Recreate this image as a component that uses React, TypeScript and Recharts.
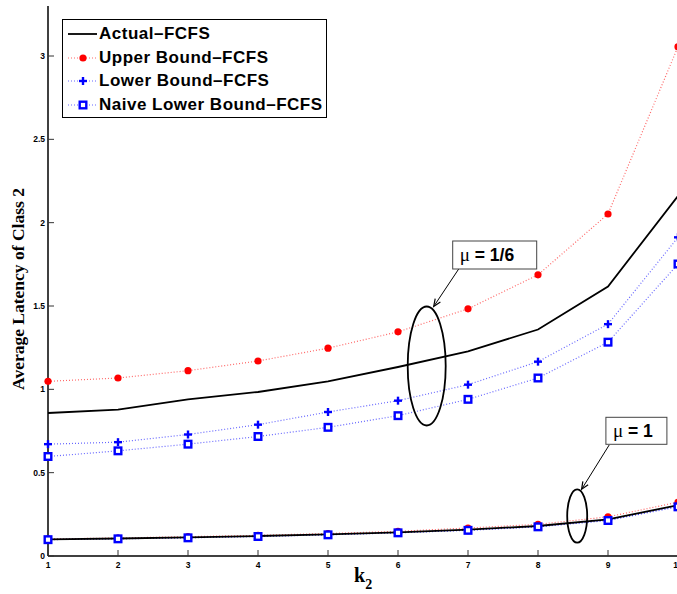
import React from "react";
import {
  LineChart,
  Line,
  XAxis,
  YAxis,
  Legend,
  ReferenceDot,
} from "recharts";

// k2 values on the x axis
const K2 = [1, 2, 3, 4, 5, 6, 7, 8, 9, 10];
const X_TICKS = [1, 2, 3, 4, 5, 6, 7, 8, 9, 10];
const Y_TICKS = [0, 0.5, 1, 1.5, 2, 2.5, 3];

// mu = 1/6
const ACTUAL_16 = [0.858, 0.878, 0.94, 0.984, 1.048, 1.134, 1.228, 1.359, 1.617, 2.16];
const UPPER_16 = [1.048, 1.068, 1.112, 1.17, 1.247, 1.345, 1.483, 1.687, 2.052, 3.056];
const LOWER_16 = [0.671, 0.683, 0.729, 0.788, 0.864, 0.932, 1.028, 1.166, 1.391, 1.912];
const NAIVE_16 = [0.597, 0.631, 0.671, 0.717, 0.772, 0.842, 0.94, 1.068, 1.283, 1.752];

// mu = 1
const ACTUAL_1 = [0.1, 0.105, 0.112, 0.12, 0.13, 0.142, 0.158, 0.18, 0.22, 0.305];
const UPPER_1 = [0.102, 0.108, 0.116, 0.124, 0.135, 0.148, 0.168, 0.19, 0.235, 0.323];
const LOWER_1 = [0.099, 0.104, 0.11, 0.118, 0.128, 0.14, 0.155, 0.176, 0.215, 0.3];
const NAIVE_1 = [0.098, 0.103, 0.109, 0.117, 0.127, 0.139, 0.154, 0.175, 0.213, 0.295];

const data = K2.map((k, i) => ({
  k,
  a16: ACTUAL_16[i],
  u16: UPPER_16[i],
  l16: LOWER_16[i],
  n16: NAIVE_16[i],
  a1: ACTUAL_1[i],
  u1: UPPER_1[i],
  l1: LOWER_1[i],
  n1: NAIVE_1[i],
}));

const RED = "#ff0000";
const BLUE = "#0000ff";
const SANS = "'Liberation Sans', Arial, sans-serif";
const SERIF = "'Liberation Serif', 'Times New Roman', serif";
const TICK = 6;

const RedDot = (p: any) => <circle cx={p.cx} cy={p.cy} r={3.6} fill={RED} stroke="none" />;
const PlusDot = (p: any) => (
  <g stroke={BLUE} strokeWidth={2.4}>
    <line x1={p.cx - 4} x2={p.cx + 4} y1={p.cy} y2={p.cy} />
    <line x1={p.cx} x2={p.cx} y1={p.cy - 4} y2={p.cy + 4} />
  </g>
);
const SquareDot = (p: any) => (
  <rect x={p.cx - 3.3} y={p.cy - 3.3} width={6.6} height={6.6} fill="#fff" stroke={BLUE} strokeWidth={2.4} />
);

const BottomTick = ({ x, y, payload }: any) => (
  <g>
    <line x1={x} x2={x} y1={y} y2={y - TICK} stroke="#333" strokeWidth={1} />
    <text x={x} y={y + 12} textAnchor="middle" fontSize={8.5} fontWeight="bold" fontFamily={SANS} fill="#000">
      {payload.value}
    </text>
  </g>
);
const TopTick = ({ x, y }: any) => <line x1={x} x2={x} y1={y} y2={y + TICK} stroke="#333" strokeWidth={1} />;
const LeftTick = ({ x, y, payload }: any) => (
  <g>
    <line x1={x} x2={x + TICK} y1={y} y2={y} stroke="#333" strokeWidth={1} />
    <text x={x - 3} y={y + 3} textAnchor="end" fontSize={8.5} fontWeight="bold" fontFamily={SANS} fill="#000">
      {payload.value}
    </text>
  </g>
);
const RightTick = ({ x, y }: any) => <line x1={x} x2={x - TICK} y1={y} y2={y} stroke="#333" strokeWidth={1} />;

type AnnotProps = {
  cx?: number;
  cy?: number;
  rx: number;
  ry: number;
  text: string;
  box: { dx: number; dy: number; w: number; h: number };
  arrow: { x1: number; y1: number; x2: number; y2: number };
};

const Annotation = ({ cx = 0, cy = 0, rx, ry, text, box, arrow }: AnnotProps) => {
  const x1 = cx + arrow.x1;
  const y1 = cy + arrow.y1;
  const x2 = cx + arrow.x2;
  const y2 = cy + arrow.y2;
  const ang = Math.atan2(y2 - y1, x2 - x1);
  const hl = 8;
  const h1x = x2 - hl * Math.cos(ang - 0.4);
  const h1y = y2 - hl * Math.sin(ang - 0.4);
  const h2x = x2 - hl * Math.cos(ang + 0.4);
  const h2y = y2 - hl * Math.sin(ang + 0.4);
  return (
    <g>
      <ellipse cx={cx} cy={cy} rx={rx} ry={ry} fill="none" stroke="#000" strokeWidth={1.8} />
      <line x1={x1} y1={y1} x2={x2} y2={y2} stroke="#000" strokeWidth={1} />
      <polyline points={`${h1x},${h1y} ${x2},${y2} ${h2x},${h2y}`} fill="none" stroke="#000" strokeWidth={1.2} />
      <rect x={cx + box.dx} y={cy + box.dy} width={box.w} height={box.h} fill="#fff" stroke="#444" strokeWidth={1} />
      <text x={cx + box.dx + 7} y={cy + box.dy + 20} fontSize={17.5} fill="#000">
        <tspan fontFamily={SERIF} fontSize={19}>μ</tspan>
        <tspan fontFamily={SANS} fontWeight="bold">{" = " + text}</tspan>
      </text>
    </g>
  );
};

const LEGEND = [
  { name: "Actual\u2013FCFS", kind: "solid" },
  { name: "Upper Bound\u2013FCFS", kind: "circle" },
  { name: "Lower Bound\u2013FCFS", kind: "plus" },
  { name: "Naive Lower Bound\u2013FCFS", kind: "square" },
];

const LegendBox = () => (
  <div
    style={{
      border: "1.5px solid #000",
      background: "#fff",
      width: 265,
      height: 99,
      boxSizing: "border-box",
      paddingTop: 2,
    }}
  >
    {LEGEND.map((e) => (
      <div key={e.name} style={{ display: "flex", alignItems: "center", height: 23.7 }}>
        <svg width={36} height={20} style={{ flex: "none" }}>
          {e.kind === "solid" ? (
            <line x1={5} x2={34} y1={10} y2={10} stroke="#000" strokeWidth={1.8} />
          ) : (
            <line x1={5} x2={34} y1={10} y2={10} stroke={e.kind === "circle" ? RED : BLUE} strokeWidth={1.2} strokeDasharray="1 2" strokeOpacity={0.6} />
          )}
          {e.kind === "circle" && <RedDot cx={20} cy={10} />}
          {e.kind === "plus" && <PlusDot cx={20} cy={10} />}
          {e.kind === "square" && <SquareDot cx={20} cy={10} />}
        </svg>
        <span
          style={{
            fontFamily: SANS,
            fontWeight: "bold",
            fontSize: 17,
            letterSpacing: 0.5,
            color: "#000",
            whiteSpace: "nowrap",
          }}
        >
          {e.name}
        </span>
      </div>
    ))}
  </div>
);

const dotted = { strokeWidth: 1.2, strokeDasharray: "1 2", strokeOpacity: 0.6 };

export default function App() {
  return (
    <div style={{ position: "absolute", left: 0, top: 0, width: 677, height: 594, overflow: "hidden", background: "#fff" }}>
      <LineChart width={678} height={594} data={data} margin={{ top: 6, right: 0, bottom: 0, left: 0 }}>
        <XAxis
          xAxisId="b"
          dataKey="k"
          type="number"
          domain={[1, 10]}
          ticks={X_TICKS}
          height={38}
          tickSize={0}
          tickMargin={0}
          tickLine={false}
          axisLine={{ stroke: "#000", strokeWidth: 1.5 }}
          tick={<BottomTick />}
          interval={0}
          label={{
            content: ({ viewBox }: any) => (
              <text x={viewBox.x + viewBox.width / 2 - 9} y={viewBox.y + 26} fontFamily={SERIF} fontWeight="bold" fontSize={20} fill="#000">
                k<tspan fontSize={14} dy={7}>2</tspan>
              </text>
            ),
          }}
        />
        <XAxis
          xAxisId="t"
          orientation="top"
          dataKey="k"
          type="number"
          domain={[1, 10]}
          ticks={X_TICKS}
          height={0}
          tickSize={0}
          tickMargin={0}
          tickLine={false}
          axisLine={{ stroke: "#444", strokeWidth: 1.5 }}
          tick={<TopTick />}
          interval={0}
        />
        <YAxis
          yAxisId="l"
          type="number"
          domain={[0, 3.3]}
          ticks={Y_TICKS}
          width={48}
          tickSize={0}
          tickMargin={0}
          tickLine={false}
          axisLine={{ stroke: "#000", strokeWidth: 1.5 }}
          tick={<LeftTick />}
          interval={0}
          label={{
            content: ({ viewBox }: any) => {
              const cx = viewBox.x + 24;
              const cy = viewBox.y + viewBox.height / 2 + 8;
              return (
                <text x={cx} y={cy} transform={`rotate(-90 ${cx} ${cy})`} textAnchor="middle" fontFamily={SERIF} fontWeight="bold" fontSize={17.5} fill="#000">
                  Average Latency of Class 2
                </text>
              );
            },
          }}
        />
        <YAxis
          yAxisId="r"
          orientation="right"
          type="number"
          domain={[0, 3.3]}
          ticks={Y_TICKS}
          width={0}
          tickSize={0}
          tickMargin={0}
          tickLine={false}
          axisLine={{ stroke: "#444", strokeWidth: 1.5 }}
          tick={<RightTick />}
          interval={0}
        />
        <Legend
          verticalAlign="middle"
          align="center"
          layout="vertical"
          wrapperStyle={{ left: 62, top: 19, width: "auto", height: "auto" }}
          content={() => <LegendBox />}
        />

        <Line xAxisId="b" yAxisId="l" dataKey="u16" stroke={RED} {...dotted} dot={<RedDot />} activeDot={false} isAnimationActive={false} legendType="none" />
        <Line xAxisId="b" yAxisId="l" dataKey="l16" stroke={BLUE} {...dotted} dot={<PlusDot />} activeDot={false} isAnimationActive={false} legendType="none" />
        <Line xAxisId="b" yAxisId="l" dataKey="n16" stroke={BLUE} {...dotted} dot={<SquareDot />} activeDot={false} isAnimationActive={false} legendType="none" />
        <Line xAxisId="b" yAxisId="l" dataKey="a16" stroke="#000" strokeWidth={1.8} dot={false} activeDot={false} isAnimationActive={false} legendType="none" />

        <Line xAxisId="b" yAxisId="l" dataKey="u1" stroke={RED} {...dotted} dot={<RedDot />} activeDot={false} isAnimationActive={false} legendType="none" />
        <Line xAxisId="b" yAxisId="l" dataKey="l1" stroke={BLUE} {...dotted} dot={<PlusDot />} activeDot={false} isAnimationActive={false} legendType="none" />
        <Line xAxisId="b" yAxisId="l" dataKey="n1" stroke={BLUE} {...dotted} dot={<SquareDot />} activeDot={false} isAnimationActive={false} legendType="none" />
        <Line xAxisId="b" yAxisId="l" dataKey="a1" stroke="#000" strokeWidth={1.8} dot={false} activeDot={false} isAnimationActive={false} legendType="none" />

        <ReferenceDot
          xAxisId="b"
          yAxisId="l"
          x={6.41}
          y={1.14}
          ifOverflow="visible"
          shape={(p: any) => (
            <Annotation
              cx={p.cx}
              cy={p.cy}
              rx={19}
              ry={59.5}
              text="1/6"
              box={{ dx: 26, dy: -125, w: 84, h: 28 }}
              arrow={{ x1: 32, y1: -97, x2: 7, y2: -59.5 }}
            />
          )}
        />
        <ReferenceDot
          xAxisId="b"
          yAxisId="l"
          x={8.56}
          y={0.24}
          ifOverflow="visible"
          shape={(p: any) => (
            <Annotation
              cx={p.cx}
              cy={p.cy}
              rx={10}
              ry={26.7}
              text="1"
              box={{ dx: 28.7, dy: -98.7, w: 61, h: 27 }}
              arrow={{ x1: 32, y1: -71, x2: 4.4, y2: -26.7 }}
            />
          )}
        />
      </LineChart>
    </div>
  );
}
